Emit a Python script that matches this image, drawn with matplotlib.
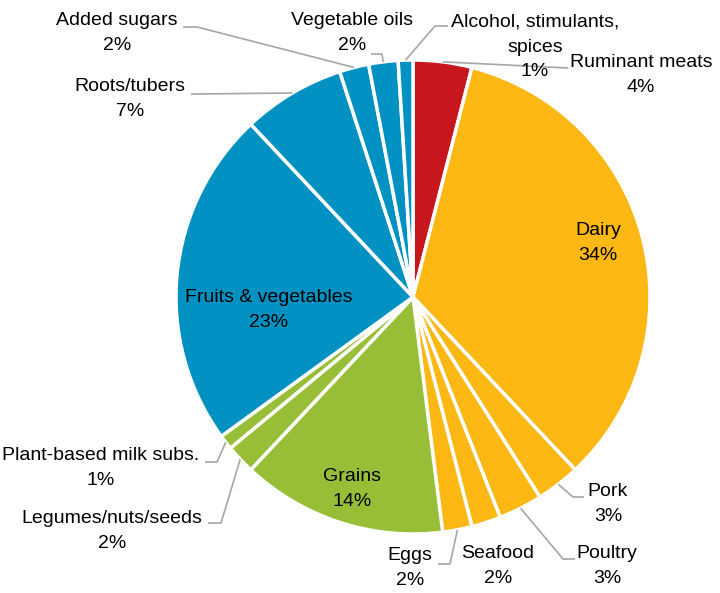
import matplotlib.pyplot as plt
import numpy as np

# diet composition shares, clockwise from 12 o'clock
categories = ['Ruminant meats', 'Dairy', 'Pork', 'Poultry', 'Seafood', 'Eggs',
              'Grains', 'Legumes/nuts/seeds', 'Plant-based milk subs.',
              'Fruits & vegetables', 'Roots/tubers', 'Added sugars',
              'Vegetable oils', 'Alcohol, stimulants,\nspices']
shares = [4, 34, 3, 3, 2, 2, 14, 2, 1, 23, 7, 2, 2, 1]
groups = ['meat', 'animal', 'animal', 'animal', 'animal', 'animal',
          'grain', 'grain', 'grain', 'plant', 'plant', 'plant', 'plant', 'plant']

group_colours = {'meat': '#C8161E', 'animal': '#FDB813',
                 'grain': '#97BE36', 'plant': '#0091C3'}

W, H = 720, 593
cx, cy, R = 413, 297, 237
LINE = 25  # pixel gap between label lines

# label centre, then leader line elbow and end (pixel positions, y down)
layout = {
    'Ruminant meats': ((641, 75), (568, 68), (568, 68)),
    'Dairy': ((598, 243), None, None),
    'Pork': ((608, 504), (573, 497), (584, 497)),
    'Poultry': ((607, 566), (563, 559), (575, 559)),
    'Seafood': ((498, 566), None, None),
    'Eggs': ((410, 568), (450, 564), (438, 564)),
    'Grains': ((352, 489), None, None),
    'Legumes/nuts/seeds': ((112, 531), (221, 523), (208, 523)),
    'Plant-based milk subs.': ((101, 468), (217, 462), (205, 462)),
    'Fruits & vegetables': ((269, 310), None, None),
    'Roots/tubers': ((130, 99), (196, 94), (191, 94)),
    'Added sugars': ((117, 33), (197, 27), (183, 27)),
    'Vegetable oils': ((352, 33), (382, 54), (371, 54)),
    'Alcohol, stimulants,\nspices': ((535, 47), (435, 26), (448, 26)),
}

fig = plt.figure(figsize=(W / 100, H / 100), dpi=100)
ax = fig.add_axes([0, 0, 1, 1])

cols = [group_colours[g] for g in groups]
ax.pie(shares, colors=cols, startangle=90, counterclock=False,
       center=(cx, H - cy), radius=R,
       wedgeprops=dict(edgecolor='white', linewidth=2.5))
ax.set_xlim(0, W)
ax.set_ylim(0, H)
ax.axis('off')

font = dict(family='Liberation Sans', size=14, color='black')
cum = 0
for name, v in zip(categories, shares):
    mid = np.deg2rad(90 - 360 * (cum + v / 2) / 100)
    cum += v
    (tx, ty), elbow, end = layout[name]
    if elbow is not None:
        ax_ = cx + R * np.cos(mid)
        ay_ = (H - cy) + R * np.sin(mid)
        xs = [ax_, elbow[0], end[0]]
        ys = [ay_, H - elbow[1], H - end[1]]
        ax.plot(xs, ys, color='#A6A6A6', linewidth=1.2, solid_capstyle='butt')
    # one text per line so the spacing can be set in pixels
    lines = name.split('\n') + ['%d%%' % v]
    y0 = ty - LINE * (len(lines) - 1) / 2
    for i, s in enumerate(lines):
        ax.text(tx, H - (y0 + i * LINE), s, ha='center', va='center', **font)

fig.savefig('out.png', dpi=100)
